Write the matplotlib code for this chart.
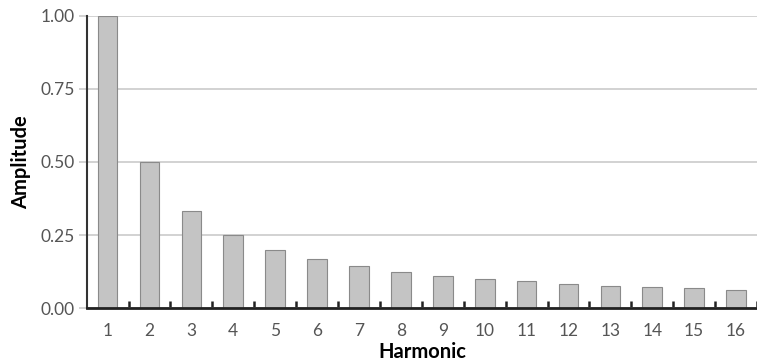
import matplotlib
matplotlib.use("Agg")
import matplotlib.pyplot as plt
import numpy as np

harmonics = list(range(1, 17))
amplitudes = [1.0, 0.5, 0.333, 0.25, 0.2, 0.167, 0.143, 0.125, 0.111, 0.1,
              0.091, 0.083, 0.077, 0.071, 0.067, 0.0625]
y_ticks = [0.0, 0.25, 0.5, 0.75, 1.0]
y_labels = ["0.00", "0.25", "0.50", "0.75", "1.00"]

plt.rcParams["font.family"] = ["Lato", "DejaVu Sans"]

fig = plt.figure(figsize=(7.57, 3.62), dpi=100)
ax = fig.add_axes([0.115, 0.149, 0.885, 0.807])

ax.bar(harmonics, amplitudes, width=0.47, color="#c4c4c4",
       edgecolor="#8a8a8a", linewidth=0.8, zorder=3)

ax.set_xlim(0.51, 16.46)
ax.set_ylim(0, 1.0)
ax.set_yticks(y_ticks)
ax.set_yticklabels(y_labels)
ax.yaxis.grid(True, color="#cfcfcf", linewidth=1.3, zorder=0)
ax.tick_params(axis="y", length=6, color="#cfcfcf", width=1.3,
               labelsize=12.5, labelcolor="#555555", pad=3)

ax.set_xticks(harmonics)
ax.set_xticklabels([str(h) for h in harmonics])
ax.tick_params(axis="x", length=0, labelsize=12.5, labelcolor="#555555", pad=11)
ax.set_xticks([h + 0.5 for h in harmonics], minor=True)
ax.tick_params(axis="x", which="minor", direction="in", length=5,
               width=1.8, color="#222222")

for side in ("top", "right"):
    ax.spines[side].set_visible(False)
ax.spines["left"].set_color("#333333")
ax.spines["left"].set_linewidth(1.5)
ax.spines["bottom"].set_color("#222222")
ax.spines["bottom"].set_linewidth(2)
ax.spines["bottom"].set_zorder(4)

# axis titles placed in pixel terms relative to the axes box
ax_w = 0.885 * 757
ax_h = 0.807 * 362
ax.set_ylabel("Amplitude", fontsize=14.5, fontweight="bold")
ax.set_xlabel("Harmonic", fontsize=14.5, fontweight="bold")
ax.yaxis.set_label_coords((21 - 87) / ax_w, 0.5)
ax.xaxis.set_label_coords((422 - 87) / ax_w, -(352 - 308) / ax_h)
ax.xaxis.label.set_verticalalignment("center")
ax.yaxis.label.set_verticalalignment("center")

fig.savefig("out.png", dpi=100)
